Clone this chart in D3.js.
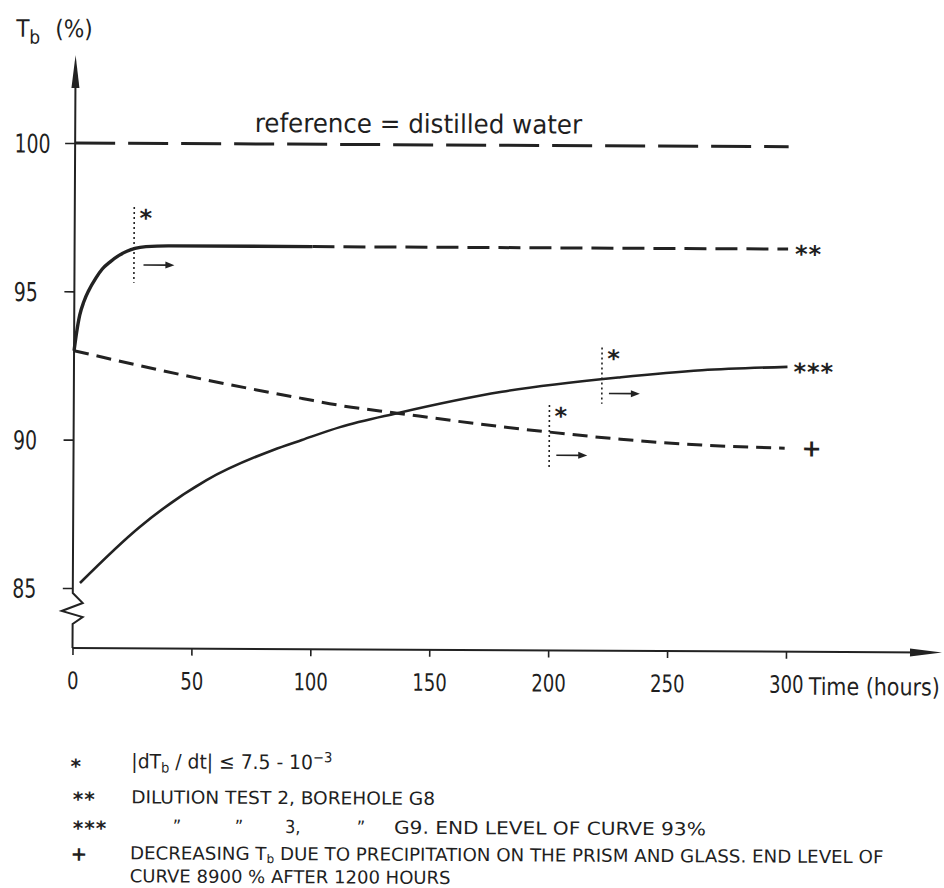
<!DOCTYPE html>
<html>
<head>
<meta charset="utf-8">
<script src="https://cdn.jsdelivr.net/npm/d3@7"></script>
<style>
  html, body { margin: 0; padding: 0; background: #fff; }
  svg { display: block; }
  text { font-family: "DejaVu Sans", "Liberation Sans", sans-serif; font-stretch: condensed; fill: #1f1f1f; }
  .sym { font-family: "DejaVu Sans", sans-serif; font-stretch: normal; font-weight: bold; }
</style>
</head>
<body>
<svg id="chart" width="944" height="888"></svg>
<script>
// Axis ticks: time (hours) and transmittance Tb (%)
const xTicks = [0, 50, 100, 150, 200, 250, 300];
const yTicks = [85, 90, 95, 100];

// Reference level: distilled water
const referenceHours = [0, 300];
const referenceValues = [100, 100];

// ** Dilution test 2, borehole G8 (measured part, then extrapolated)
const g8Hours = [0, 1, 2.3, 4, 6.1, 9, 11.6, 15, 18.7, 22, 25.4, 30, 40, 100];
const g8Values = [93.0, 93.6, 94.2, 94.65, 95.04, 95.45, 95.75, 96.0, 96.22, 96.36, 96.46, 96.52, 96.55, 96.55];
const g8ExtHours = [100, 300];
const g8ExtValues = [96.55, 96.55];

// *** Dilution test 3, borehole G9
const g9Hours = [3, 28, 56, 84, 96, 112, 136, 180, 230, 264, 300];
const g9Values = [85.17, 87.07, 88.66, 89.69, 90.03, 90.47, 90.95, 91.69, 92.20, 92.45, 92.58];

// + Decreasing Tb due to precipitation on prism and glass
const precipHours = [0, 56, 96, 112, 136, 180, 200, 230, 264, 299];
const precipValues = [93.0, 92.03, 91.43, 91.2, 90.95, 90.51, 90.34, 90.11, 89.93, 89.84];

// * Times where |dTb/dt| <= 7.5e-3 (dotted marker, arrow pointing onward)
const markerHours = [25, 200, 222];
const markerTop = [97.85, 91.25, 93.2];
const markerBottom = [95.3, 89.15, 91.3];
const arrowLevel = [95.9, 89.56, 91.65];
const arrowStart = [29, 203, 225];
const arrowEnd = [42, 216, 238];

const ink = "#222";
const svg = d3.select("#chart");

const x = d3.scaleLinear().domain([0, 300]).range([72.5, 786]);
const y = d3.scaleLinear().domain([85, 100]).range([588, 143]);
const axisY = 648;
const ax = x(0);

// the whole sheet sits very slightly rotated
const root = svg.append("g").attr("transform", `rotate(0.3, ${ax}, ${axisY})`);

// squeeze a text horizontally to a given width, keeping its anchor point
function fitWidth(sel, width) {
  const w = sel.node().getBBox().width;
  const x0 = +sel.attr("x") || 0;
  const k = width / w;
  sel.attr("transform", `translate(${x0},0) scale(${k},1) translate(${-x0},0)`);
}

// ---- axes ----
const xAxis = root.append("g")
  .attr("transform", `translate(0,${axisY})`)
  .call(d3.axisBottom(x).tickValues(xTicks).tickSize(7).tickPadding(17).tickFormat(d3.format("d")));
xAxis.select(".domain").remove();
xAxis.selectAll(".tick line").attr("stroke", ink).attr("stroke-width", 1.6);
xAxis.selectAll(".tick text").attr("fill", ink).style("font-size", "24px")
  .style("font-family", '"DejaVu Sans", sans-serif')
  .each(function (d) { fitWidth(d3.select(this), String(d).length * 11.5); });

const yAxis = root.append("g")
  .attr("transform", `translate(${ax},0)`)
  .call(d3.axisLeft(y).tickValues(yTicks).tickSize(10).tickFormat(d3.format("d")));
yAxis.select(".domain").remove();
yAxis.selectAll(".tick line").attr("stroke", ink).attr("stroke-width", 1.6);
yAxis.selectAll(".tick text")
  .attr("x", 12 - ax).attr("text-anchor", "start").attr("dy", "0.36em")
  .attr("fill", ink).style("font-size", "26px")
  .style("font-family", '"DejaVu Sans", sans-serif')
  .each(function (d) { fitWidth(d3.select(this), String(d).length * 12); });

// axis lines with the broken (zigzag) segment below 85 %
const yBreak = y(85);
root.append("path")
  .attr("d", `M${ax},${axisY} V${yBreak + 36} L${ax + 10},${yBreak + 29} L${ax - 11},${yBreak + 23} L${ax + 10},${yBreak + 15} L${ax},${yBreak + 5} V70`)
  .attr("fill", "none").attr("stroke", ink).attr("stroke-width", 2).attr("stroke-linejoin", "miter");
root.append("path")
  .attr("d", `M${ax},${axisY} H925`)
  .attr("fill", "none").attr("stroke", ink).attr("stroke-width", 2);
root.append("path").attr("d", `M${ax},55 L${ax - 4},88 L${ax + 4},88 Z`).attr("fill", ink);
root.append("path").attr("d", `M942,${axisY} L910,${axisY - 4} L910,${axisY + 4} Z`).attr("fill", ink);

// axis titles
const tb = root.append("text").attr("x", 13).attr("y", 37).style("font-size", "24px");
tb.append("tspan").text("T");
tb.append("tspan").attr("dy", 7).style("font-size", "19px").text("b");
tb.append("tspan").attr("x", 52).attr("dy", -7).text("(%)");

const tt = root.append("text").attr("x", 809).attr("y", axisY + 43)
  .style("font-size", "24px").text("Time (hours)");
fitWidth(tt, 132);

// ---- curves ----
const line = d3.line().x(d => x(d[0])).y(d => y(d[1])).curve(d3.curveMonotoneX);
const pairs = (hs, vs) => hs.map((h, i) => [h, vs[i]]);

root.append("path").datum(pairs(referenceHours, referenceValues))
  .attr("d", line).attr("fill", "none").attr("stroke", ink)
  .attr("stroke-width", 3).attr("stroke-dasharray", "40,13");

const ref = root.append("text").attr("x", x(75.5)).attr("y", y(100) - 12)
  .style("font-size", "26px").text("reference = distilled  water");
fitWidth(ref, 328);

root.append("path").datum(pairs(g8Hours, g8Values))
  .attr("d", line).attr("fill", "none").attr("stroke", ink).attr("stroke-width", 3.4);
root.append("path").datum(pairs(g8ExtHours, g8ExtValues))
  .attr("d", line).attr("fill", "none").attr("stroke", ink)
  .attr("stroke-width", 3).attr("stroke-dasharray", "22,9");

root.append("path").datum(pairs(g9Hours, g9Values))
  .attr("d", line).attr("fill", "none").attr("stroke", ink).attr("stroke-width", 2.6);

root.append("path").datum(pairs(precipHours, precipValues))
  .attr("d", line).attr("fill", "none").attr("stroke", ink)
  .attr("stroke-width", 3).attr("stroke-dasharray", "15,8");

// symbols (asterisks / plus) drawn as text centred on a point
function sym(g, cx, cy, str, size, anchor) {
  return g.append("text").attr("class", "sym")
    .attr("x", cx).attr("y", cy).attr("dy", "0.56em")
    .attr("text-anchor", anchor || "middle")
    .style("font-size", size + "px").style("letter-spacing", "1px")
    .text(str);
}
function plus(g, cx, cy, size) {
  return g.append("text").attr("class", "sym")
    .attr("x", cx).attr("y", cy).attr("dy", "0.34em")
    .attr("text-anchor", "middle").style("font-size", size + "px").text("+");
}

// curve end labels
const g8End = g8ExtHours.length - 1, g9End = g9Hours.length - 1, pEnd = precipHours.length - 1;
sym(root, x(g8ExtHours[g8End]) + 7, y(g8ExtValues[g8End]), "**", 24, "start");
sym(root, x(g9Hours[g9End]) + 6, y(g9Values[g9End]), "***", 24, "start");
plus(root, x(precipHours[pEnd]) + 27, y(precipValues[pEnd]), 24);

// * markers
markerHours.forEach((h, i) => {
  const mx = x(h);
  root.append("line")
    .attr("x1", mx).attr("x2", mx).attr("y1", y(markerTop[i])).attr("y2", y(markerBottom[i]))
    .attr("stroke", ink).attr("stroke-width", 1.6).attr("stroke-dasharray", "2,3");
  sym(root, mx + 12, y(markerTop[i]) + 6, "*", 24);
  const ay = y(arrowLevel[i]);
  const x1 = x(arrowStart[i]), x2 = x(arrowEnd[i]);
  root.append("line").attr("x1", x1).attr("x2", x2 - 6).attr("y1", ay).attr("y2", ay)
    .attr("stroke", ink).attr("stroke-width", 1.6);
  root.append("path").attr("d", `M${x2},${ay} L${x2 - 9},${ay - 3.5} L${x2 - 9},${ay + 3.5} Z`).attr("fill", ink);
});

// ---- legend ----
const lg = root.append("g");
const lfs = "18px";

sym(lg, 77, 762, "*", 20);
const r1 = lg.append("text").attr("x", 132).attr("y", 768).style("font-size", "20px");
r1.append("tspan").text("|dT");
r1.append("tspan").attr("dy", 4).style("font-size", "14px").text("b");
r1.append("tspan").attr("dy", -4).text(" / dt|  \u2264 7.5 - 10");
r1.append("tspan").attr("dy", -7).style("font-size", "14px").text("\u22123");
fitWidth(r1, 201);

sym(lg, 85, 795, "**", 20);
const r2 = lg.append("text").attr("x", 132).attr("y", 803).style("font-size", lfs)
  .text("DILUTION  TEST 2, BOREHOLE G8");
fitWidth(r2, 304);

sym(lg, 91, 824, "***", 20);
[178, 240, 362].forEach(cx => {
  lg.append("text").attr("x", cx).attr("y", 832).attr("text-anchor", "middle")
    .style("font-size", lfs).text("\u201D");
});
lg.append("text").attr("x", 286).attr("y", 832).style("font-size", lfs).text("3,");
const r3 = lg.append("text").attr("x", 395).attr("y", 832).style("font-size", lfs)
  .text("G9. END LEVEL OF CURVE 93%");
fitWidth(r3, 312);

plus(lg, 80, 854, 20);
const r4 = lg.append("text").attr("x", 131).attr("y", 859).style("font-size", lfs);
r4.append("tspan").text("DECREASING T");
r4.append("tspan").attr("dy", 3).style("font-size", "12px").text("b");
r4.append("tspan").attr("dy", -3).text("  DUE TO PRECIPITATION ON THE PRISM AND GLASS. END LEVEL OF");
fitWidth(r4, 754);

const r5 = lg.append("text").attr("x", 131).attr("y", 882).style("font-size", lfs)
  .text("CURVE  8900 %  AFTER 1200 HOURS");
fitWidth(r5, 321);
</script>
</body>
</html>
